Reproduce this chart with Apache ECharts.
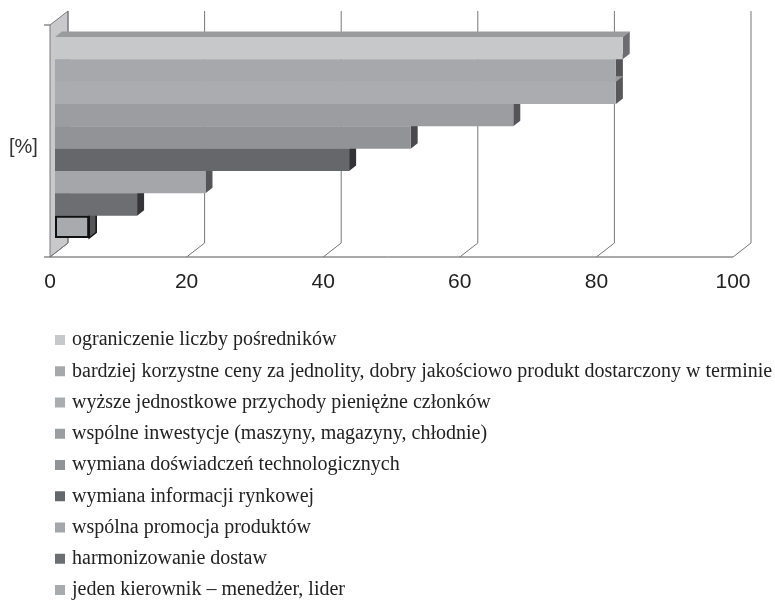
<!DOCTYPE html>
<html>
<head>
<meta charset="utf-8">
<script src="https://cdn.jsdelivr.net/npm/echarts@6/dist/echarts.min.js"></script>
<style>
html,body{margin:0;padding:0;background:#fff;}
#chart{width:775px;height:604px;}
</style>
</head>
<body>
<div id="chart"></div>
<script>
// ---- data ----
const categories = [
  'ograniczenie liczby pośredników',
  'bardziej korzystne ceny za jednolity, dobry jakościowo produkt dostarczony w terminie',
  'wyższe jednostkowe przychody pieniężne członków',
  'wspólne inwestycje (maszyny, magazyny, chłodnie)',
  'wymiana doświadczeń technologicznych',
  'wymiana informacji rynkowej',
  'wspólna promocja produktów',
  'harmonizowanie dostaw',
  'jeden kierownik – menedżer, lider'
];
const values = [83, 82, 82, 67, 52, 43, 22, 12, 5];
const xTicks = [0, 20, 40, 60, 80, 100];
const axisUnit = '[%]';

// ---- styles ----
const frontColors = ['#c7c8ca', '#a7a8ac', '#abacb0', '#9c9da1', '#929397', '#66676b', '#a5a6aa', '#6d6e72', '#a9aaad'];
const sideColors  = ['#6e6e70', '#555557', '#58585a', '#555557', '#4a4a4c', '#333335', '#555557', '#353537', '#555557'];
const topColor = '#9a9b9d';
const DX = 7, DY = 5.5;        // bar depth
const WX = 18, WY = 14;        // wall depth

const chart = echarts.init(document.getElementById('chart'));

const barSeries = categories.map((name, i) => ({
  name: name,
  type: 'bar',
  xAxisIndex: 0,
  yAxisIndex: 0,
  barGap: '-100%',
  barCategoryGap: '0%',
  z: 3,
  silent: true,
  itemStyle: i === 8
    ? { color: frontColors[i], borderColor: '#111', borderWidth: 2 }
    : { color: frontColors[i] },
  data: values.map((v, j) => (j === i ? v : '-'))
}));

const facesSeries = {
  type: 'custom',
  xAxisIndex: 0,
  yAxisIndex: 0,
  z: 2,
  silent: true,
  data: values.map((v, i) => [v, i]),
  renderItem: function (params, api) {
    const v = api.value(0), i = api.value(1);
    const end = api.coord([v, i]);
    const start = api.coord([0, i]);
    const h = api.size([0, 1])[1];
    const top = end[1] - h / 2, bot = end[1] + h / 2;
    const xe = end[0], x0 = start[0];
    const stroke = i === 8 ? '#111' : null;
    return {
      type: 'group',
      children: [
        { type: 'polygon', shape: { points: [[x0, top], [x0 + DX, top - DY], [xe + DX, top - DY], [xe, top]] },
          style: { fill: topColor } },
        { type: 'polygon', shape: { points: [[xe, top], [xe + DX, top - DY], [xe + DX, bot - DY], [xe, bot]] },
          style: { fill: sideColors[i], stroke: stroke, lineWidth: stroke ? 1.5 : 0 } }
      ]
    };
  }
};

const frameSeries = {
  type: 'custom',
  xAxisIndex: 1,
  yAxisIndex: 1,
  z: 1,
  silent: true,
  data: xTicks.map(t => [t]),
  renderItem: function (params, api) {
    const t = api.value(0);
    const b = api.coord([t, 0]);
    const tp = api.coord([t, 1]);
    const children = [];
    if (params.dataIndex === 0) {
      children.push({ type: 'polygon', shape: { points: [[b[0], tp[1]], [b[0] + WX, tp[1] - WY], [b[0] + WX, b[1] - WY], [b[0], b[1]]] },
        style: { fill: '#c9c9cb', stroke: '#7a7a7a', lineWidth: 1 } });
      children.push({ type: 'line', shape: { x1: b[0] - 6, y1: tp[1], x2: b[0], y2: tp[1] }, style: { stroke: '#555', lineWidth: 1 } });
      const last = api.coord([xTicks[xTicks.length - 1], 0]);
      children.push({ type: 'line', shape: { x1: b[0] - 6, y1: b[1], x2: last[0], y2: b[1] }, style: { stroke: '#555', lineWidth: 1 } });
    }
    children.push({ type: 'line', shape: { x1: b[0], y1: b[1], x2: b[0] + WX, y2: b[1] - WY }, style: { stroke: '#777', lineWidth: 1 } });
    children.push({ type: 'line', shape: { x1: b[0] + WX, y1: b[1] - WY, x2: b[0] + WX, y2: tp[1] - WY }, style: { stroke: '#777', lineWidth: 1 } });
    return { type: 'group', children: children };
  }
};

chart.setOption({
  animation: false,
  backgroundColor: '#fff',
  grid: [
    { left: 55, top: 37, width: 684, height: 201 },
    { left: 50, top: 25, width: 683, height: 232 }
  ],
  xAxis: [
    { gridIndex: 0, type: 'value', min: 0, max: 100, show: false },
    { gridIndex: 1, type: 'value', min: 0, max: 100, interval: 20,
      axisLine: { show: false }, axisTick: { show: false }, splitLine: { show: false },
      axisLabel: { margin: 15, fontSize: 21, fontFamily: 'Liberation Sans', color: '#222' } }
  ],
  yAxis: [
    { gridIndex: 0, type: 'category', inverse: true, data: categories, show: false },
    { gridIndex: 1, type: 'value', min: 0, max: 1, show: false }
  ],
  legend: {
    orient: 'vertical',
    left: 55,
    top: 330,
    height: 274,
    padding: 0,
    icon: 'rect',
    itemWidth: 10,
    itemHeight: 10,
    itemGap: 11.25,
    selectedMode: false,
    itemStyle: { borderWidth: 0 },
    textStyle: { fontFamily: 'Liberation Serif', fontSize: 20, color: '#222', lineHeight: 20, padding: [0, 0, 0, 2] },
    data: categories
  },
  graphic: [
    { type: 'text', left: 9, top: 137, style: { text: axisUnit, fontSize: 20, fontFamily: 'Liberation Sans', fill: '#333' } }
  ],
  series: [frameSeries, facesSeries].concat(barSeries)
});
</script>
</body>
</html>
